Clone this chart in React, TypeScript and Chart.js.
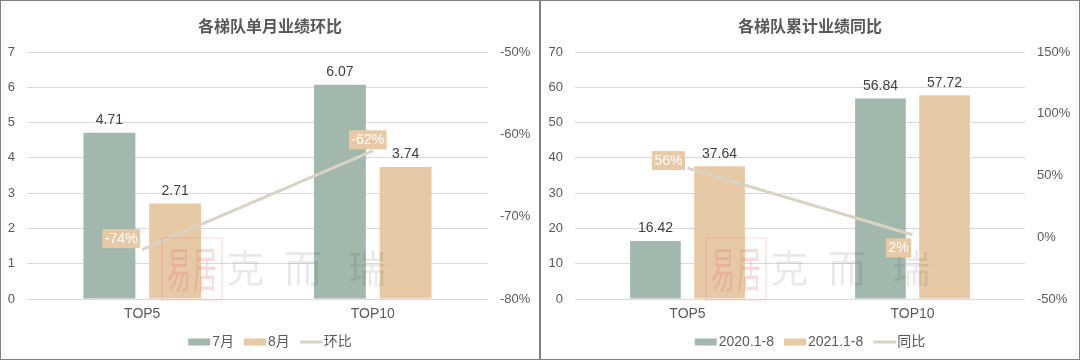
import React, { useEffect, useRef } from 'react';
import { Chart, registerables } from 'chart.js';

Chart.register(...registerables);

// ---- Data ----
const categories = ['TOP5', 'TOP10'];

const monthlyTitle = '各梯队单月业绩环比';
const monthlySeriesNames = ['7月', '8月', '环比'];
const julyValues = [4.71, 6.07];
const augustValues = [2.71, 3.74];
const momPercent = [-74, -62];

const ytdTitle = '各梯队累计业绩同比';
const ytdSeriesNames = ['2020.1-8', '2021.1-8', '同比'];
const ytd2020Values = [16.42, 56.84];
const ytd2021Values = [37.64, 57.72];
const yoyPercent = [56, 2];

// ---- Style ----
const GREEN = '#a3b8ad';
const TAN = '#e8c9a6';
const LINE = '#d9d3c4';
const GRID = '#d9d9d9';
const TEXT = '#595959';
const VALUE = '#404040';
const FONT = "'Liberation Sans', Arial, 'Noto Sans CJK SC', sans-serif";
const CJK = "'Noto Sans CJK SC', 'Liberation Sans', sans-serif";

type PanelOpts = {
  title: string;
  names: string[];
  bar1: number[];
  bar2: number[];
  line: number[];
  yMax: number;
  yStep: number;
  y1Min: number;
  y1Max: number;
  y1Step: number;
  yWidth: number;
  y1Width: number;
  labelOffsets: [number, number][];
  sealOffset: number;
};

function makePlugin(p: PanelOpts) {
  return {
    id: 'customDraw',
    afterDatasetsDraw(chart: any) {
      const ctx: CanvasRenderingContext2D = chart.ctx;
      const area = chart.chartArea;
      ctx.save();
      // watermark
      const sx = area.left + p.sealOffset;
      const sy = 238;
      ctx.strokeStyle = 'rgba(225,120,120,0.28)';
      ctx.lineWidth = 1.2;
      ctx.beginPath();
      ctx.rect(sx, sy, 60, 62);
      ctx.stroke();
      ctx.fillStyle = 'rgba(225,110,110,0.25)';
      ctx.textAlign = 'center';
      ctx.textBaseline = 'middle';
      ctx.font = `24px ${CJK}`;
      ctx.save();
      ctx.translate(sx + 30, sy + 31);
      ctx.scale(1, 2.0);
      ctx.fillText('易', -13, 0);
      ctx.fillText('居', 13, 0);
      ctx.restore();
      ctx.fillStyle = 'rgba(0,0,0,0.085)';
      ctx.font = `38px ${CJK}`;
      const wm = ['克', '而', '瑞'];
      const wmOff = [83, 141, 205];
      wm.forEach((c, i) => ctx.fillText(c, sx + wmOff[i], 268));

      // data labels
      chart.data.datasets.forEach((ds: any, i: number) => {
        const meta = chart.getDatasetMeta(i);
        if (ds.type === 'line') {
          meta.data.forEach((pt: any, j: number) => {
            const [dx, dy] = p.labelOffsets[j];
            const text = ds.data[j] + '%';
            ctx.font = `14px ${FONT}`;
            const w = ctx.measureText(text).width + 5;
            const h = 19;
            const cx = pt.x + dx;
            const cy = pt.y + dy;
            ctx.fillStyle = TAN;
            ctx.fillRect(cx - w / 2, cy - h / 2, w, h);
            ctx.fillStyle = '#ffffff';
            ctx.textAlign = 'center';
            ctx.textBaseline = 'middle';
            ctx.fillText(text, cx, cy + 0.5);
          });
        } else {
          meta.data.forEach((bar: any, j: number) => {
            ctx.font = `14px ${FONT}`;
            ctx.fillStyle = VALUE;
            ctx.textAlign = 'center';
            ctx.textBaseline = 'middle';
            ctx.fillText(Number(ds.data[j]).toFixed(2), bar.x, bar.y - 12.5);
          });
        }
      });
      ctx.restore();
    },
    afterDraw(chart: any) {
      const ctx: CanvasRenderingContext2D = chart.ctx;
      const W = chart.width;
      ctx.save();
      // title
      ctx.font = `bold 16px ${CJK}`;
      ctx.fillStyle = TEXT;
      ctx.textAlign = 'center';
      ctx.textBaseline = 'middle';
      ctx.fillText(p.title, W / 2, 26);

      // legend
      ctx.font = `14px ${FONT}`;
      const boxW = 22;
      const gap = 2;
      const itemGap = 10;
      const items = chart.data.datasets.map((ds: any) => ({
        label: ds.label as string,
        color: (ds.type === 'line' ? ds.borderColor : ds.backgroundColor) as string,
        isLine: ds.type === 'line',
      }));
      const widths = items.map((it: any) => boxW + gap + ctx.measureText(it.label).width);
      const total = widths.reduce((a: number, b: number) => a + b, 0) + itemGap * (items.length - 1);
      let x = W / 2 - total / 2;
      const y = 342;
      items.forEach((it: any, i: number) => {
        ctx.fillStyle = it.color;
        if (it.isLine) {
          ctx.fillRect(x, y - 1.5, boxW + 1, 3);
        } else {
          ctx.fillRect(x, y - 3.5, boxW, 7);
        }
        ctx.fillStyle = TEXT;
        ctx.textAlign = 'left';
        ctx.textBaseline = 'middle';
        ctx.fillText(it.label, x + boxW + gap, y);
        x += widths[i] + itemGap;
      });
      ctx.restore();
    },
  };
}

function buildConfig(p: PanelOpts): any {
  return {
    type: 'bar',
    data: {
      labels: categories,
      datasets: [
        {
          type: 'bar',
          label: p.names[0],
          data: p.bar1,
          backgroundColor: GREEN,
          yAxisID: 'y',
          order: 2,
          categoryPercentage: 0.57,
          barPercentage: 0.79,
        },
        {
          type: 'bar',
          label: p.names[1],
          data: p.bar2,
          backgroundColor: TAN,
          yAxisID: 'y',
          order: 2,
          categoryPercentage: 0.57,
          barPercentage: 0.79,
        },
        {
          type: 'line',
          label: p.names[2],
          data: p.line,
          yAxisID: 'y1',
          borderColor: LINE,
          backgroundColor: LINE,
          borderWidth: 3,
          pointRadius: 0,
          tension: 0,
          order: 0,
        },
      ],
    },
    options: {
      responsive: false,
      animation: false,
      devicePixelRatio: 1,
      layout: { padding: { top: 52, bottom: 39, left: 0, right: 0 } },
      plugins: {
        legend: { display: false },
        title: { display: false },
        tooltip: { enabled: false },
      },
      scales: {
        x: {
          grid: { display: false, drawTicks: false },
          border: { display: false },
          ticks: { color: TEXT, font: { size: 14, family: FONT }, padding: 7 },
          afterFit: (s: any) => {
            s.height = 22;
          },
        },
        y: {
          position: 'left',
          min: 0,
          max: p.yMax,
          ticks: { stepSize: p.yStep, color: TEXT, font: { size: 13, family: FONT }, padding: 12 },
          grid: { color: GRID, lineWidth: 1, drawTicks: false },
          border: { display: false },
          afterFit: (s: any) => {
            s.width = p.yWidth;
          },
        },
        y1: {
          position: 'right',
          min: p.y1Min,
          max: p.y1Max,
          ticks: {
            stepSize: p.y1Step,
            color: TEXT,
            font: { size: 13, family: FONT },
            padding: 12,
            callback: (v: any) => `${v}%`,
          },
          grid: { display: false, drawTicks: false },
          border: { display: false },
          afterFit: (s: any) => {
            s.width = p.y1Width;
          },
        },
      },
    },
    plugins: [makePlugin(p)],
  };
}

const leftPanel: PanelOpts = {
  title: monthlyTitle,
  names: monthlySeriesNames,
  bar1: julyValues,
  bar2: augustValues,
  line: momPercent,
  yMax: 7,
  yStep: 1,
  y1Min: -80,
  y1Max: -50,
  y1Step: 10,
  yWidth: 27,
  y1Width: 52,
  labelOffsets: [
    [-21, -11],
    [-5, -11],
  ],
  sealOffset: 135,
};

const rightPanel: PanelOpts = {
  title: ytdTitle,
  names: ytdSeriesNames,
  bar1: ytd2020Values,
  bar2: ytd2021Values,
  line: yoyPercent,
  yMax: 70,
  yStep: 10,
  y1Min: -50,
  y1Max: 150,
  y1Step: 50,
  yWidth: 35,
  y1Width: 55,
  labelOffsets: [
    [-19, -7.5],
    [-14, 13],
  ],
  sealOffset: 131,
};

function Panel({ opts, left }: { opts: PanelOpts; left: number }) {
  const ref = useRef<HTMLCanvasElement | null>(null);
  useEffect(() => {
    if (!ref.current) return;
    const chart = new Chart(ref.current, buildConfig(opts));
    return () => chart.destroy();
  }, [opts]);
  return (
    <div style={{ position: 'absolute', left, top: 0, width: 540, height: 360 }}>
      <canvas ref={ref} width={540} height={360} style={{ display: 'block', width: 540, height: 360 }} />
      <div
        style={{
          position: 'absolute',
          left: 0,
          top: 0,
          width: 540,
          height: 360,
          boxSizing: 'border-box',
          border: '1px solid #808080',
          pointerEvents: 'none',
        }}
      />
    </div>
  );
}

export default function App() {
  return (
    <div style={{ position: 'absolute', left: 0, top: 0, width: 1080, height: 360, background: '#ffffff' }}>
      <Panel opts={leftPanel} left={0} />
      <Panel opts={rightPanel} left={540} />
    </div>
  );
}
